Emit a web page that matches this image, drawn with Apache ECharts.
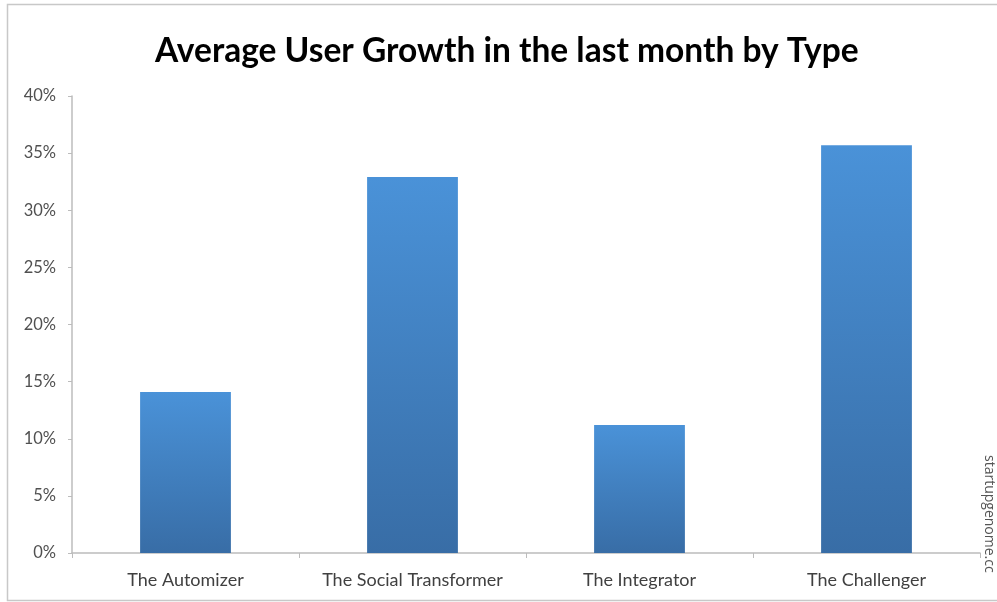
<!DOCTYPE html>
<html><head><meta charset="utf-8">
<script src="https://cdn.jsdelivr.net/npm/echarts@6/dist/echarts.min.js"></script>
<style>html,body{margin:0;padding:0;background:#fff}#c{width:997px;height:602px}</style>
</head><body><div id="c"></div>
<script>
const categories = ['The Automizer', 'The Social Transformer', 'The Integrator', 'The Challenger'];
const growthValues = [14.1, 32.9, 11.2, 35.7];
const yTicks = [0, 5, 10, 15, 20, 25, 30, 35, 40];

const chart = echarts.init(document.getElementById('c'));
chart.setOption({
  backgroundColor: '#ffffff',
  animation: false,
  title: {
    text: 'Average User Growth in the last month by Type',
    left: 150, top: 29,
    textStyle: { fontFamily: 'Lato', fontWeight: 'bold', fontSize: 33.5, color: '#000' }
  },
  graphic: [
    { type: 'rect', shape: { x: 7.5, y: 4.5, width: 1100, height: 596 }, style: { fill: 'none', stroke: '#c8c8c8', lineWidth: 1.5 } },
    { type: 'text', x: 996, y: 455, rotation: -Math.PI / 2,
      style: { text: 'startupgenome.cc', fontFamily: 'Open Sans', fontSize: 14, fill: '#555' } }
  ],
  grid: { left: 72, right: 17, top: 96, bottom: 49 },
  xAxis: {
    type: 'category', data: categories,
    axisLine: { lineStyle: { color: '#bcbcbc', width: 1.5 } },
    axisTick: { show: true, length: 5, alignWithLabel: false, lineStyle: { color: '#bcbcbc' } },
    axisLabel: { interval: 0, color: '#404040', fontFamily: 'Lato', fontSize: 18, margin: 18 }
  },
  yAxis: {
    type: 'value', min: 0, max: 40, interval: 5,
    axisLine: { show: true, lineStyle: { color: '#bcbcbc', width: 1.5 } },
    axisTick: { show: true, length: 4, lineStyle: { color: '#bcbcbc' } },
    splitLine: { show: false },
    axisLabel: { color: '#505050', fontFamily: 'Lato', fontSize: 16.5, margin: 16,
      formatter: v => yTicks.includes(v) ? v + '%' : '' }
  },
  series: [{
    type: 'bar', data: growthValues, barWidth: '40%',
    itemStyle: {
      color: new echarts.graphic.LinearGradient(0, 0, 0, 1, [
        { offset: 0, color: '#4a92d8' },
        { offset: 1, color: '#386da6' }
      ])
    }
  }]
});
</script></body></html>
